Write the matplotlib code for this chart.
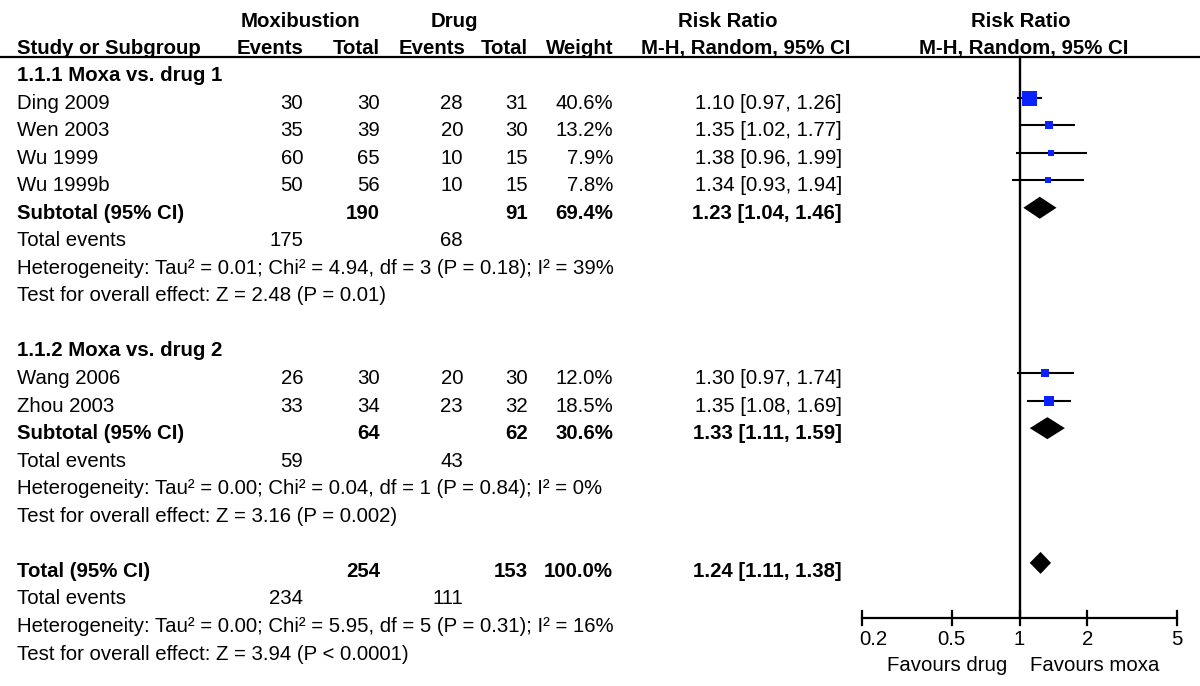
import numpy as np
import matplotlib
matplotlib.use('Agg')
from matplotlib import pyplot as plt

plt.rcParams['font.family'] = ['Liberation Sans', 'DejaVu Sans']

# studies
studies = ['Ding 2009', 'Wen 2003', 'Wu 1999', 'Wu 1999b', 'Wang 2006', 'Zhou 2003']
study_group = [0, 0, 0, 0, 1, 1]
moxa_events = [30, 35, 60, 50, 26, 33]
moxa_total = [30, 39, 65, 56, 30, 34]
drug_events = [28, 20, 10, 10, 20, 23]
drug_total = [31, 30, 15, 15, 30, 32]
weights = [40.6, 13.2, 7.9, 7.8, 12.0, 18.5]
rr = [1.10, 1.35, 1.38, 1.34, 1.30, 1.35]
ci_lo = [0.97, 1.02, 0.96, 0.93, 0.97, 1.08]
ci_hi = [1.26, 1.77, 1.99, 1.94, 1.74, 1.69]

# subgroups
sub_names = ['1.1.1 Moxa vs. drug 1', '1.1.2 Moxa vs. drug 2']
sub_moxa_total = [190, 64]
sub_drug_total = [91, 62]
sub_moxa_events = [175, 59]
sub_drug_events = [68, 43]
sub_weight = [69.4, 30.6]
sub_rr = [1.23, 1.33]
sub_lo = [1.04, 1.11]
sub_hi = [1.46, 1.59]
sub_het = ['Heterogeneity: Tau\u00b2 = 0.01; Chi\u00b2 = 4.94, df = 3 (P = 0.18); I\u00b2 = 39%',
           'Heterogeneity: Tau\u00b2 = 0.00; Chi\u00b2 = 0.04, df = 1 (P = 0.84); I\u00b2 = 0%']
sub_test = ['Test for overall effect: Z = 2.48 (P = 0.01)',
            'Test for overall effect: Z = 3.16 (P = 0.002)']

# overall
tot_moxa_total, tot_drug_total = 254, 153
tot_moxa_events, tot_drug_events = 234, 111
tot_weight = 100.0
tot_rr, tot_lo, tot_hi = 1.24, 1.11, 1.38
tot_het = 'Heterogeneity: Tau\u00b2 = 0.00; Chi\u00b2 = 5.95, df = 5 (P = 0.31); I\u00b2 = 16%'
tot_test = 'Test for overall effect: Z = 3.94 (P < 0.0001)'

tick_vals = [0.2, 0.5, 1, 2, 5]
tick_labels = ['0.2', '0.5', '1', '2', '5']

W, H = 1200, 686
fig = plt.figure(figsize=(W / 100, H / 100), dpi=100)
tab = fig.add_axes([0, 0, 1, 1])
tab.set_xlim(0, W)
tab.set_ylim(H, 0)
tab.axis('off')

# forest panel: log axis 0.2..5 mapped to pixels 862..1177
fp = fig.add_axes([862 / W, 0, 315 / W, 1])
fp.set_xscale('log')
fp.set_xlim(0.2, 5)
fp.set_ylim(H, 0)
fp.axis('off')

fs = 14.7
row0, dy = 74, 27.55
base = 7            # baseline offset below the row centre
mk_off = -4         # markers sit a bit above the text centre
col_x = {'name': 17, 'me': 303, 'mt': 380, 'de': 463, 'dt': 528, 'w': 613, 'rr': 842}


def txt(x, y, s, ha='right', bold=False):
    tab.text(x, y + base, s, ha=ha, va='baseline', fontsize=fs,
             fontweight='bold' if bold else 'normal')


# headers
for x, s in [(300, 'Moxibustion'), (454, 'Drug'), (728, 'Risk Ratio'), (1021, 'Risk Ratio')]:
    txt(x, 20, s, ha='center', bold=True)
txt(17, 47, 'Study or Subgroup', ha='left', bold=True)
for x, s in [(304, 'Events'), (380, 'Total'), (465, 'Events'), (528, 'Total'),
             (613, 'Weight'), (850, 'M-H, Random, 95% CI')]:
    txt(x, 47, s, bold=True)
txt(1024, 47, 'M-H, Random, 95% CI', ha='center', bold=True)
tab.plot([0, W], [57, 57], color='black', lw=1.6, solid_capstyle='butt')


def ci_text(m, lo, hi):
    return '{:.2f} [{:.2f}, {:.2f}]'.format(m, lo, hi)


def diamond(y, m, lo, hi):
    yc = y + mk_off
    fp.fill([lo, m, hi, m], [yc, yc - 11, yc, yc + 11], color='black', lw=0, clip_on=False)


row = 0
for g in range(len(sub_names)):
    y = row0 + row * dy
    txt(col_x['name'], y, sub_names[g], ha='left', bold=True)
    row += 1
    for i in range(len(studies)):
        if study_group[i] != g:
            continue
        y = row0 + row * dy
        txt(col_x['name'], y, studies[i], ha='left')
        txt(col_x['me'], y, str(moxa_events[i]))
        txt(col_x['mt'], y, str(moxa_total[i]))
        txt(col_x['de'], y, str(drug_events[i]))
        txt(col_x['dt'], y, str(drug_total[i]))
        txt(col_x['w'], y, '{:.1f}%'.format(weights[i]))
        txt(col_x['rr'], y, ci_text(rr[i], ci_lo[i], ci_hi[i]))
        yc = y + mk_off
        fp.plot([ci_lo[i], ci_hi[i]], [yc, yc], color='black', lw=1.5,
                solid_capstyle='butt', clip_on=False)
        side = 15 * (weights[i] / max(weights)) ** 0.6
        fp.plot([rr[i]], [yc], marker='s', ms=side * 0.72, color='#0a22ff',
                mew=0, clip_on=False, zorder=3)
        row += 1
    y = row0 + row * dy
    txt(col_x['name'], y, 'Subtotal (95% CI)', ha='left', bold=True)
    txt(col_x['mt'], y, str(sub_moxa_total[g]), bold=True)
    txt(col_x['dt'], y, str(sub_drug_total[g]), bold=True)
    txt(col_x['w'], y, '{:.1f}%'.format(sub_weight[g]), bold=True)
    txt(col_x['rr'], y, ci_text(sub_rr[g], sub_lo[g], sub_hi[g]), bold=True)
    diamond(y, sub_rr[g], sub_lo[g], sub_hi[g])
    row += 1
    y = row0 + row * dy
    txt(col_x['name'], y, 'Total events', ha='left')
    txt(col_x['me'], y, str(sub_moxa_events[g]))
    txt(col_x['de'], y, str(sub_drug_events[g]))
    row += 1
    txt(col_x['name'], row0 + row * dy, sub_het[g], ha='left')
    row += 1
    txt(col_x['name'], row0 + row * dy, sub_test[g], ha='left')
    row += 2

# overall total
y = row0 + row * dy
txt(col_x['name'], y, 'Total (95% CI)', ha='left', bold=True)
txt(col_x['mt'], y, str(tot_moxa_total), bold=True)
txt(col_x['dt'], y, str(tot_drug_total), bold=True)
txt(col_x['w'], y, '{:.1f}%'.format(tot_weight), bold=True)
txt(col_x['rr'], y, ci_text(tot_rr, tot_lo, tot_hi), bold=True)
diamond(y - 3, tot_rr, tot_lo, tot_hi)
row += 1
y = row0 + row * dy
txt(col_x['name'], y, 'Total events', ha='left')
txt(col_x['me'], y, str(tot_moxa_events))
txt(col_x['de'], y, str(tot_drug_events))
row += 1
txt(col_x['name'], row0 + row * dy, tot_het, ha='left')
row += 1
txt(col_x['name'], row0 + row * dy, tot_test, ha='left')

# line of no effect and the x axis
axis_y = 618
fp.plot([1, 1], [57, axis_y], color='black', lw=1.7, clip_on=False)
fp.plot([0.2, 5], [axis_y, axis_y], color='black', lw=1.6, clip_on=False)
for v, lab in zip(tick_vals, tick_labels):
    fp.plot([v, v], [axis_y - 7, axis_y + 7], color='black', lw=1.6, clip_on=False)
    if v == tick_vals[0]:
        fp.text(v * 0.97, 638 + base, lab, ha='left', va='baseline', fontsize=fs)
    else:
        fp.text(v, 638 + base, lab, ha='center', va='baseline', fontsize=fs)
fp.text(0.88, 664 + base, 'Favours drug', ha='right', va='baseline', fontsize=fs)
fp.text(1.11, 664 + base, 'Favours moxa', ha='left', va='baseline', fontsize=fs)

fig.savefig('out.png', dpi=100)
